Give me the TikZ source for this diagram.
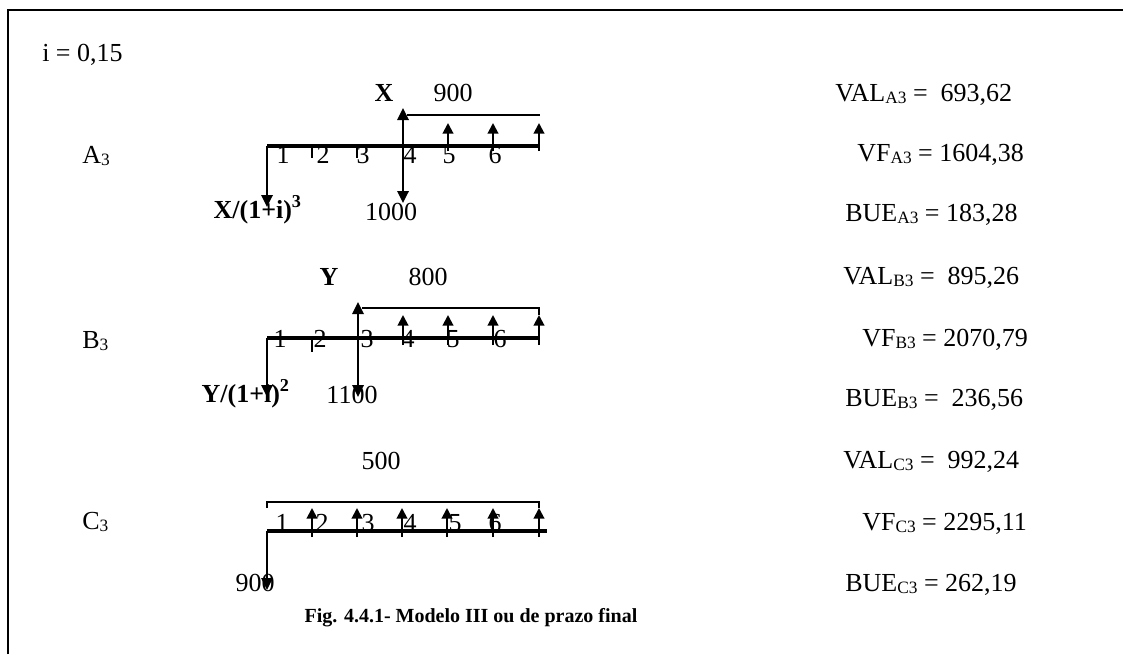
\documentclass[tikz,border=0pt]{standalone}
\usepackage{fontspec}
\setmainfont{Liberation Serif}
\usetikzlibrary{arrows.meta}
\newcommand{\msz}{\fontsize{19.5pt}{22pt}\selectfont}
\newcommand{\ssz}{\fontsize{13pt}{15pt}\selectfont}
\newcommand{\sbx}[1]{\raisebox{-0.1em}{\ssz #1}}
\tikzset{
 lbl/.style={inner sep=0pt, anchor=base, font=\msz},
 lblw/.style={inner sep=0pt, anchor=base west, font=\msz},
 capt/.style={inner sep=0pt, anchor=base, font=\fontsize{15pt}{18pt}\selectfont\bfseries},
 tline/.style={line width=2.5pt},
 bigarr/.style={line width=1.7pt, -{Triangle[width=8.5pt,length=9pt]}},
 smarr/.style={line width=1.5pt, -{Triangle[width=8pt,length=8pt]}},
 tickmark/.style={line width=1.4pt},
 thinline/.style={line width=0.8pt},
 framel/.style={line width=1.8pt}
}
\begin{document}
\begin{tikzpicture}[x=0.75pt,y=-0.75pt]
\useasboundingbox (0,0) rectangle (1123,654);
% frame
\coordinate (f1) at (8,654); \coordinate (f2) at (8,10); \coordinate (f3) at (1123,10);
\draw[framel] (f1) -- (f2) -- (f3);

\node[lblw] (rate) at (42,61) {i = 0,15};

% ---------- A3 ----------
\node[lblw] (nA) at (82,163) {A\sbx{3}};
\node[lbl] (X) at (384,101) {\textbf{X}};
\node[lbl] (v900a) at (453,101) {900};
\node[lblw] (valA) at (835,101) {VAL\sbx{A3} =\ \ 693,62};
\node[lblw] (vfA) at (857,161) {VF\sbx{A3} = 1604,38};
\node[lblw] (bueA) at (845,221) {BUE\sbx{A3} = 183,28};
\node[lbl, anchor=base east] (pvX) at (302,218) {\textbf{X/(1+i)\textsuperscript{3}}};
\node[lbl] (v1000) at (391,220) {1000};

\coordinate (a0) at (267,146); \coordinate (aE) at (540,146);
\draw[tline] (a0) -- (aE);
\coordinate (a0d) at (267,207); \draw[bigarr] (a0) -- (a0d);
\coordinate (a4) at (403,146); \coordinate (a4u) at (403,108); \coordinate (a4d) at (403,203);
\draw[bigarr] (a4) -- (a4u); \draw[bigarr] (a4) -- (a4d);
\coordinate (aT1) at (407,115); \coordinate (aT2) at (540,115);
\draw[thinline] (aT1) -- (aT2);
\foreach \x in {448,493,539}{
  \coordinate (as\x) at (\x,151); \coordinate (at\x) at (\x,123);
  \draw[smarr] (as\x) -- (at\x);}
\foreach \x in {312,357}{
  \coordinate (ak\x) at (\x,146); \coordinate (akb\x) at (\x,158);
  \draw[tickmark] (ak\x) -- (akb\x);}
\foreach \x/\n in {283/1,323/2,363/3,410/4,449/5,495/6}
  \node[lbl] (al\n) at (\x,163) {\n};

% ---------- B3 ----------
\node[lblw] (nB) at (82,348) {B\sbx{3}};
\node[lbl] (Y) at (329,285) {\textbf{Y}};
\node[lbl] (v800) at (428,285) {800};
\node[lblw] (valB) at (843,284) {VAL\sbx{B3} =\ \ 895,26};
\node[lblw] (vfB) at (862,346) {VF\sbx{B3} = 2070,79};
\node[lblw] (bueB) at (845,406) {BUE\sbx{B3} =\ \ 236,56};
\node[lbl, anchor=base east] (pvY) at (290,402) {\textbf{Y/(1+i)\textsuperscript{2}}};
\node[lbl] (v1100) at (352,403) {1100};

\coordinate (b0) at (267,338); \coordinate (bE) at (539,338);
\draw[tline] (b0) -- (bE);
\coordinate (b0d) at (267,397); \draw[bigarr] (b0) -- (b0d);
\coordinate (b3) at (358,338); \coordinate (b3u) at (358,302); \coordinate (b3d) at (358,397);
\draw[bigarr] (b3) -- (b3u); \draw[bigarr] (b3) -- (b3d);
\coordinate (bT1) at (362,308); \coordinate (bT2) at (539,308); \coordinate (bT3) at (539,315);
\draw[thinline] (bT1) -- (bT2) -- (bT3);
\foreach \x in {403,448,493,539}{
  \coordinate (bs\x) at (\x,345); \coordinate (bt\x) at (\x,315);
  \draw[smarr] (bs\x) -- (bt\x);}
\coordinate (bk) at (312,338); \coordinate (bkb) at (312,352);
\draw[tickmark] (bk) -- (bkb);
\foreach \x/\n in {280/1,320/2,367/3,408/4,453/5,500/6}
  \node[lbl] (bl\n) at (\x,347) {\n};

% ---------- C3 ----------
\node[lblw] (nC) at (82,529) {C\sbx{3}};
\node[lbl] (v500) at (381,469) {500};
\node[lblw] (valC) at (843,468) {VAL\sbx{C3} =\ \ 992,24};
\node[lblw] (vfC) at (862,530) {VF\sbx{C3} = 2295,11};
\node[lblw] (bueC) at (845,591) {BUE\sbx{C3} = 262,19};
\node[lbl] (v900c) at (255,591) {900};

\coordinate (c0) at (267,531); \coordinate (cE) at (547,531);
\draw[tline] (c0) -- (cE);
\coordinate (c0d) at (267,590); \draw[bigarr] (c0) -- (c0d);
\coordinate (cT0) at (267,508); \coordinate (cT1) at (267,502); \coordinate (cT2) at (539,502); \coordinate (cT3) at (539,508);
\draw[thinline] (cT0) -- (cT1) -- (cT2) -- (cT3);
\foreach \x in {312,357,402,447,493,539}{
  \coordinate (cs\x) at (\x,537); \coordinate (ct\x) at (\x,508);
  \draw[smarr] (cs\x) -- (ct\x);}
\foreach \x/\n in {282/1,322/2,368/3,410/4,455/5,495/6}
  \node[lbl] (cl\n) at (\x,531) {\n};

\node[capt] (cap) at (471,622) {Fig. 4.4.1- Modelo III ou de prazo final};
\end{tikzpicture}
\end{document}
